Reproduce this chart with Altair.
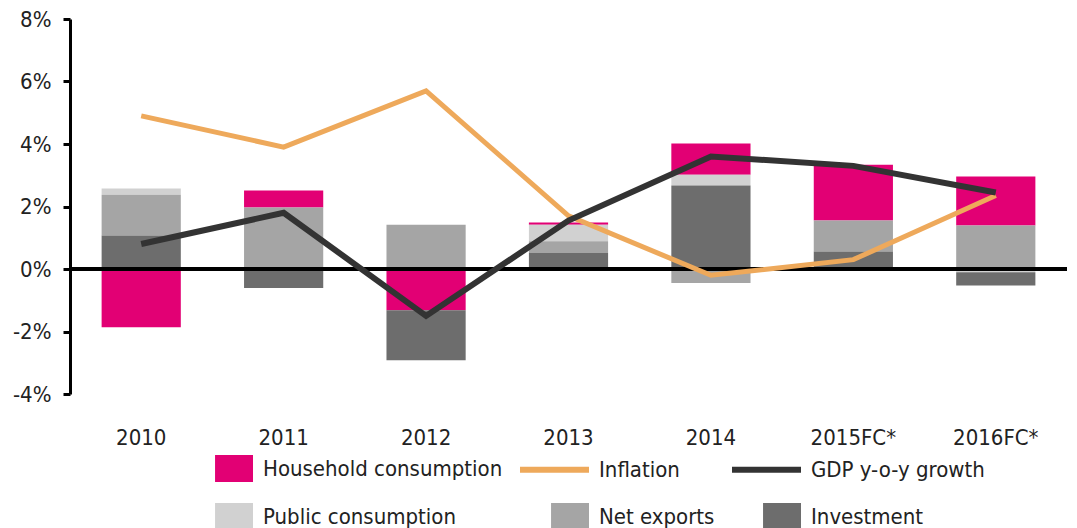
import altair as alt
import pandas as pd

# ---- data (percent) ----
years = ["2010", "2011", "2012", "2013", "2014", "2015FC*", "2016FC*"]
household = [-1.86, 0.54, -1.32, 0.07, 1.00, 1.79, 1.57]
public = [0.20, 0.0, 0.0, 0.53, 0.35, 0.0, -0.10]
net_exports = [1.31, 1.97, 1.42, 0.38, -0.45, 0.99, 1.39]
investment = [1.07, -0.61, -1.60, 0.51, 2.67, 0.56, -0.43]
inflation = [4.9, 3.9, 5.7, 1.7, -0.2, 0.3, 2.35]
gdp = [0.8, 1.8, -1.5, 1.55, 3.6, 3.3, 2.45]
y_ticks = [-4, -2, 0, 2, 4, 6, 8]

legend_order = ["Household consumption", "Inflation", "GDP y-o-y growth",
                "Public consumption", "Net exports", "Investment"]
legend_colors = ["#E20074", "#EEA95B", "#333333", "#D1D1D1", "#A5A5A5", "#6D6D6D"]

FONT = "DejaVu Sans Condensed, Liberation Sans"
FS = 22
TXT = "#222222"

# stacking order: positives from zero upward, negatives from zero downward
pos_rank = {"Investment": 0, "Net exports": 1, "Public consumption": 2, "Household consumption": 3}
neg_rank = {"Household consumption": 0, "Public consumption": 1, "Net exports": 2, "Investment": 3}
components = {"Household consumption": household, "Public consumption": public,
              "Net exports": net_exports, "Investment": investment}
rows = []
for name, vals in components.items():
    for yr, v in zip(years, vals):
        if v == 0:
            continue
        rows.append({"year": yr, "series": name, "value": v,
                     "stack_order": pos_rank[name] if v > 0 else neg_rank[name]})
bar_df = pd.DataFrame(rows)
infl_df = pd.DataFrame({"year": years, "value": inflation})
gdp_df = pd.DataFrame({"year": years, "value": gdp})
zero_df = pd.DataFrame({"value": [0]})

W, H = 997, 375

x_enc = alt.X("year:N", sort=years,
              scale=alt.Scale(paddingInner=0.444, paddingOuter=0.222),
              axis=alt.Axis(title=None, labelAngle=0, domain=False, ticks=False,
                            labelPadding=33, labelFontSize=FS, labelFont=FONT,
                            labelColor=TXT))
y_scale = alt.Scale(domain=[-4, 8], nice=False, zero=False)

symbol_expr = ("indexof(['Inflation','GDP y-o-y growth'], datum.value) >= 0 ? "
               "'M-1,-0.087H1V0.087H-1Z' : 'M-0.1,-0.39H1V0.39H-0.1Z'")

bars = alt.Chart(bar_df).mark_bar().encode(
    x=x_enc,
    y=alt.Y("value:Q", stack="zero", scale=y_scale,
            axis=alt.Axis(title=None, values=y_ticks, labelExpr="datum.value + '%'",
                          grid=False, domainColor="black", domainWidth=3,
                          tickColor="black", tickWidth=3, tickSize=7,
                          labelFontSize=FS, labelFont=FONT, labelColor=TXT,
                          labelPadding=12)),
    color=alt.Color("series:N",
                    scale=alt.Scale(domain=legend_order, range=legend_colors),
                    legend=alt.Legend(title=None, orient="none", direction="horizontal",
                                      legendX=114, legendY=415,
                                      columns=3, columnPadding=17, rowPadding=0,
                                      symbolType={"expr": symbol_expr},
                                      symbolSize=4761, symbolStrokeWidth=0,
                                      symbolOpacity=1,
                                      labelFontSize=FS, labelFont=FONT, labelColor=TXT,
                                      labelOffset=10, labelLimit=500)),
    order=alt.Order("stack_order:Q"),
)

zero_rule = alt.Chart(zero_df).mark_rule(color="black", strokeWidth=4).encode(
    y=alt.Y("value:Q", scale=y_scale))

infl_line = alt.Chart(infl_df).mark_line(color="#EEA95B", strokeWidth=5).encode(
    x=alt.X("year:N", sort=years), y=alt.Y("value:Q", scale=y_scale))
gdp_line = alt.Chart(gdp_df).mark_line(color="#333333", strokeWidth=6).encode(
    x=alt.X("year:N", sort=years), y=alt.Y("value:Q", scale=y_scale))

chart = alt.layer(bars, zero_rule, infl_line, gdp_line).properties(
    width=W, height=H,
    padding={"left": 4, "top": 0, "right": 0, "bottom": 0},
    background="white",
).configure_view(stroke=None)

chart.save("out.html", embed_options={"renderer": "svg", "actions": False})
